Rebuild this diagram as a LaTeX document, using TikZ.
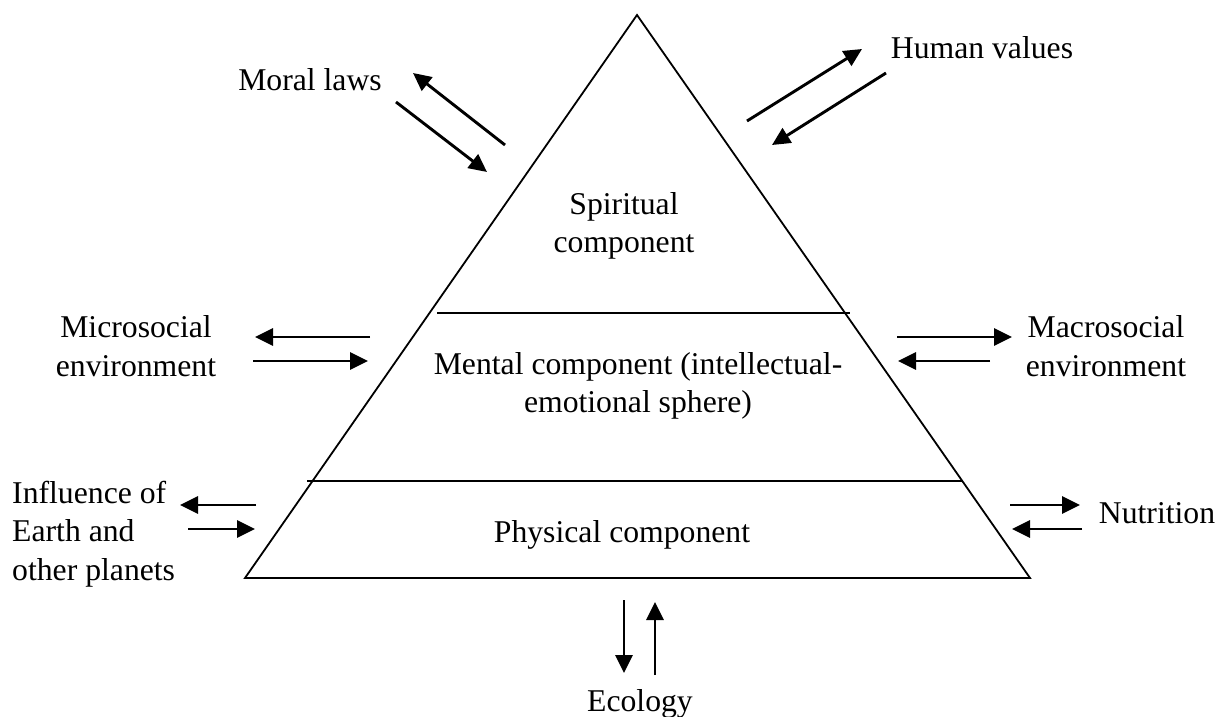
\documentclass[tikz,border=0pt]{standalone}
\usepackage{fontspec}
\setmainfont{Liberation Serif}
\usetikzlibrary{arrows.meta}
\begin{document}
\begin{tikzpicture}[x=1pt,y=-1pt,
  lbl/.style={inner sep=0pt,align=center,font=\fontsize{31.7}{38.5}\selectfont},
  tri/.style={line width=1.8pt,line join=miter},
  arr/.style={line width=2.9pt,-{Triangle[length=18pt,width=17pt]}}]
\useasboundingbox (0,0) rectangle (1218,717);
% pyramid
\coordinate (A) at (637,15);
\coordinate (BL) at (245,578);
\coordinate (BR) at (1030,578);
\draw[tri] (A) -- (BL) -- (BR) -- cycle;
\coordinate (l1a) at (437,313); \coordinate (l1b) at (850,313);
\coordinate (l2a) at (307,481); \coordinate (l2b) at (962,481);
\draw[line width=1.6pt] (l1a) -- (l1b);
\draw[line width=1.6pt] (l2a) -- (l2b);
% inner labels
\node[lbl] (spirit) at (624,226) {Spiritual\\component};
\node[lbl] (mental) at (638,386) {Mental component (intellectual-\\emotional sphere)};
\node[lbl] (phys) at (622,535) {Physical component};
% outer labels
\node[lbl] (moral) at (310,80) {Moral laws};
\node[lbl] (human) at (982,48) {Human values};
\node[lbl] (micro) at (136,346) {Microsocial\\environment};
\node[lbl] (macro) at (1106,346) {Macrosocial\\environment};
\node[lbl,align=left,anchor=west] (earth) at (12,534) {Influence of\\Earth and\\other planets};
\node[lbl] (nutr) at (1157,513) {Nutrition};
\node[lbl] (eco) at (640,704) {Ecology};
% arrows
\coordinate (m1s) at (505,145); \coordinate (m1e) at (413,73);
\coordinate (m2s) at (396,102); \coordinate (m2e) at (487,172);
\draw[arr] (m1s) -- (m1e);
\draw[arr] (m2s) -- (m2e);
\coordinate (h1s) at (747,121); \coordinate (h1e) at (862,49);
\coordinate (h2s) at (886,73); \coordinate (h2e) at (772,145);
\draw[arr] (h1s) -- (h1e);
\draw[arr] (h2s) -- (h2e);
\coordinate (mi1s) at (370,337); \coordinate (mi1e) at (255,337);
\coordinate (mi2s) at (253,361); \coordinate (mi2e) at (368,361);
\draw[arr] (mi1s) -- (mi1e);
\draw[arr] (mi2s) -- (mi2e);
\coordinate (ma1s) at (897,337); \coordinate (ma1e) at (1012,337);
\coordinate (ma2s) at (990,361); \coordinate (ma2e) at (898,361);
\draw[arr] (ma1s) -- (ma1e);
\draw[arr] (ma2s) -- (ma2e);
\coordinate (e1s) at (256,505); \coordinate (e1e) at (180,505);
\coordinate (e2s) at (188,529); \coordinate (e2e) at (255,529);
\draw[arr] (e1s) -- (e1e);
\draw[arr] (e2s) -- (e2e);
\coordinate (n1s) at (1010,505); \coordinate (n1e) at (1080,505);
\coordinate (n2s) at (1082,529); \coordinate (n2e) at (1012,529);
\draw[arr] (n1s) -- (n1e);
\draw[arr] (n2s) -- (n2e);
\coordinate (ec1s) at (624,600); \coordinate (ec1e) at (624,673);
\coordinate (ec2s) at (655,675); \coordinate (ec2e) at (655,602);
\draw[arr] (ec1s) -- (ec1e);
\draw[arr] (ec2s) -- (ec2e);
\end{tikzpicture}
\end{document}
